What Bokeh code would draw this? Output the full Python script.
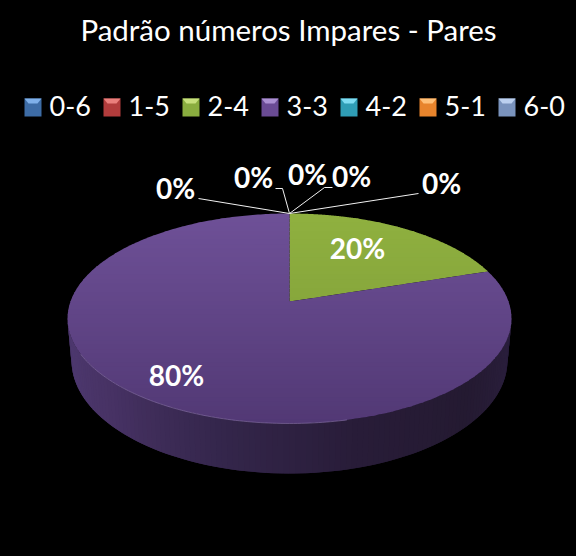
import numpy as np
from bokeh.plotting import figure
from bokeh.models import Range1d
from bokeh.core.properties import value
from bokeh.embed import file_html
from bokeh.resources import INLINE

title = "Padrão números Impares - Pares"
categories = ["0-6", "1-5", "2-4", "3-3", "4-2", "5-1", "6-0"]
values = [0, 0, 20, 80, 0, 0, 0]
colors_top = ["#4f81bd", "#c0504d", "#8fb03f", "#6e5097", "#4bacc6", "#f79646", "#95add3"]
colors_bottom = ["#3f6797", "#9a403e", "#7c9a38", "#523975", "#3c8a9e", "#c67838", "#7788a8"]
swatch_main = ["#3d6ca6", "#b23c3c", "#8aad3f", "#6a4b94", "#2f9db5", "#e8842c", "#7a93bd"]
swatch_light = ["#7fb0ea", "#ea7f7c", "#c7e07c", "#ab90d2", "#7fdcf2", "#ffc078", "#bcd0ef"]

W, H = 576, 556
p = figure(width=W, height=H, x_range=Range1d(0, W), y_range=Range1d(H, 0),
           output_backend="svg", toolbar_location=None, min_border=0,
           background_fill_color="#000000", border_fill_color="#000000")
p.axis.visible = False
p.grid.visible = False
p.outline_line_color = None

# pie geometry (projective view of a disc)
CX, CY_E, RX, RY = 289.0, 318.0, 222.0, 105.0
TOP, BOT, HUB = CY_E - RY, CY_E + RY, 301.0
c = (2 * HUB - (TOP + BOT)) / (TOP - BOT)
a = TOP * (1 + c) - HUB
D = 219.0


def project(theta):
    u, v = np.sin(theta), np.cos(theta)
    w = 1 + c * v
    return CX + D * u / w, (a * v + HUB) / w


def clip(px, py, y0, y1):
    pts = list(zip(px, py))
    for lim, keep in ((y0, lambda y: y >= y0), (y1, lambda y: y <= y1)):
        out = []
        for i in range(len(pts)):
            x1, y1_ = pts[i]
            x2, y2_ = pts[(i + 1) % len(pts)]
            k1, k2 = keep(y1_), keep(y2_)
            if k1:
                out.append((x1, y1_))
            if k1 != k2:
                t = (lim - y1_) / (y2_ - y1_)
                out.append((x1 + t * (x2 - x1), lim))
        pts = out
        if not pts:
            return [], []
    return [q[0] for q in pts], [q[1] for q in pts]


def mix(c1, c2, t):
    a1 = [int(c1[i:i + 2], 16) for i in (1, 3, 5)]
    a2 = [int(c2[i:i + 2], 16) for i in (1, 3, 5)]
    return "#%02x%02x%02x" % tuple(int(round(x + (y - x) * t)) for x, y in zip(a1, a2))


# side wall
BCY, BRX, BRY = 360.0, 218.0, 113.0
side_stops = [(0.0, "#4f3a72"), (0.2, "#473264"), (0.4, "#34264b"), (0.6, "#281c38"), (0.8, "#241a31"), (1.0, "#2c2040")]
phi = np.linspace(np.pi, 2 * np.pi, 121)
xs, ys, cols = [], [], []
for i in range(len(phi) - 1):
    p0, p1 = phi[i], phi[min(i + 2, len(phi) - 1)]
    xs.append([CX + RX * np.cos(p0), CX + RX * np.cos(p1), CX + BRX * np.cos(p1), CX + BRX * np.cos(p0)])
    ys.append([CY_E - RY * np.sin(p0), CY_E - RY * np.sin(p1), BCY - BRY * np.sin(p1), BCY - BRY * np.sin(p0)])
    f = i / (len(phi) - 2)
    for (f0, c0), (f1, c1) in zip(side_stops, side_stops[1:]):
        if f0 <= f <= f1:
            cols.append(mix(c0, c1, (f - f0) / (f1 - f0)))
            break
p.patches(xs, ys, fill_color=cols, line_color=None)

# top face with vertical gradient bands
total = sum(values)
cum = 0.0
BANDS = 48
for i, v in enumerate(values):
    start, end = cum, cum + v
    cum = end
    if v == 0:
        continue
    t = np.linspace(start / total, end / total, 360) * 2 * np.pi
    ex, ey = project(t)
    px = [CX] + list(ex)
    py = [HUB] + list(ey)
    bx, by, bc = [], [], []
    for b in range(BANDS):
        y0 = TOP + (BOT - TOP) * b / BANDS
        y1 = TOP + (BOT - TOP) * (b + 1) / BANDS + (1.0 if b < BANDS - 1 else 0)
        qx, qy = clip(px, py, y0, y1)
        if len(qx) >= 3:
            bx.append(qx)
            by.append(qy)
            bc.append(mix(colors_top[i], colors_bottom[i], b / (BANDS - 1)))
    p.patches(bx, by, fill_color=bc, line_color=None)

# faint rim highlight on lower-left of the top face
rim = np.linspace(np.radians(200), np.radians(285), 80)
p.line(CX + RX * np.cos(rim), CY_E - RY * np.sin(rim), line_color="#8d78ad", line_width=0.8, line_alpha=0.7)

# leader lines
lead_x = [[198, 289], [275, 282, 289], [332, 324, 289], [418, 289]]
lead_y = [[198, 213], [188, 188, 213], [187, 187, 213], [193, 213]]
p.multi_line(lead_x, lead_y, line_color="#f2f2f2", line_width=1)

# data labels
lx, ly, lt = [], [], []
order = [0, 1, 4, 5, 6]
zero_pos = [(175, 187), (253, 176), (307, 173), (351, 175), (441, 182)]
for i, pos in zip(order, zero_pos):
    lx.append(pos[0]); ly.append(pos[1]); lt.append(f"{values[i]}%")
for i, pos in ((2, (357, 247)), (3, (176, 374))):
    lx.append(pos[0]); ly.append(pos[1]); lt.append(f"{values[i]}%")
p.text(lx, ly, text=lt, text_color="#ffffff", text_font=value("Lato"), text_font_style="bold",
       text_font_size="28px", text_align="center", text_baseline="middle")

# title
p.text([288], [29], text=[title], text_color="#ffffff", text_font=value("Lato"),
       text_font_size="29.5px", text_align="center", text_baseline="middle")

# legend
sw_x = [24, 103, 182, 261, 340, 419, 498]
tx_x = [49, 128, 207, 286, 365, 444, 523]
SW, SY0, SY1 = 17, 98, 116
p.quad(left=sw_x, right=[x + SW for x in sw_x], top=[SY0] * 7, bottom=[SY1] * 7,
       fill_color=swatch_main, line_color=None)
p.patches([[x, x + SW, x + SW - 4, x + 4] for x in sw_x],
          [[SY0, SY0, SY0 + 5, SY0 + 5] for _ in sw_x], fill_color=swatch_light, line_color=None)
p.text(tx_x, [105] * 7, text=categories, text_color="#ffffff", text_font=value("Lato"),
       text_font_size="27px", text_align="left", text_baseline="middle")

html = file_html(p, INLINE).replace("<body>", '<body style="background:#000000;margin:0;overflow:hidden">')
open("out.html", "w").write(html)
